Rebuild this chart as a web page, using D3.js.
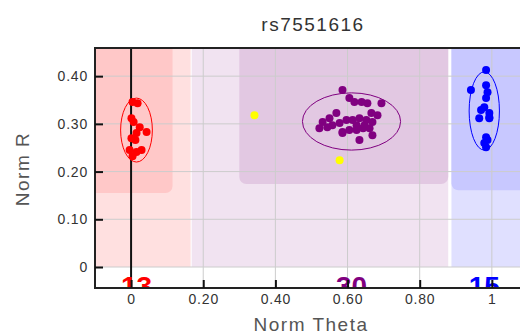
<!DOCTYPE html>
<html>
<head>
<meta charset="utf-8">
<script src="https://cdn.jsdelivr.net/npm/d3@7"></script>
<style>
    body { margin: 0; background: #fff; }
    svg text { font-family: "Liberation Sans", Arial, sans-serif; }
</style>
</head>
<body>
<svg id="figure"></svg>
<script>
// SNP cluster plot
const snpName = "rs7551616";

const xTicks = [0, 0.2, 0.4, 0.6, 0.8, 1];
const yTicks = [0, 0.1, 0.2, 0.3, 0.4];

// AA cluster (red)
const aaTheta = [0.004, 0.018, 0.001, 0.007, 0.024, 0.043, 0.015, 0.001, 0.012, -0.004, 0.015, 0.029, 0.004];
const aaR     = [0.346, 0.343, 0.312, 0.304, 0.293, 0.283, 0.281, 0.270, 0.266, 0.245, 0.241, 0.245, 0.232];

// AB cluster (purple)
const abTheta = [0.586, 0.605, 0.619, 0.639, 0.655, 0.694, 0.666, 0.683, 0.569, 0.550,
                 0.531, 0.522, 0.558, 0.578, 0.597, 0.614, 0.633, 0.652, 0.669, 0.586,
                 0.605, 0.625, 0.643, 0.661, 0.669, 0.633, 0.586, 0.544, 0.625, 0.647];
const abR     = [0.371, 0.354, 0.346, 0.346, 0.343, 0.343, 0.323, 0.318, 0.323, 0.312,
                 0.304, 0.291, 0.297, 0.302, 0.308, 0.308, 0.312, 0.308, 0.304, 0.283,
                 0.287, 0.287, 0.291, 0.291, 0.276, 0.266, 0.281, 0.293, 0.297, 0.297];

// BB cluster (blue)
const bbTheta = [0.984, 0.942, 0.984, 0.988, 0.984, 0.979, 0.970, 0.993, 0.965, 0.993, 0.984, 0.979, 0.984, 0.988, 0.993];
const bbR     = [0.413, 0.371, 0.381, 0.366, 0.354, 0.335, 0.329, 0.323, 0.312, 0.312, 0.272, 0.260, 0.251, 0.266, 0.314];

// no call
const ncTheta = [0.342, 0.578];
const ncR     = [0.318, 0.224];

// cluster ellipses: centre and half axes, in theta / R units
const ellCx = [0.015, 0.611, 0.979];
const ellCy = [0.287, 0.305, 0.327];
const ellRx = [0.044, 0.136, 0.042];
const ellRy = [0.067, 0.060, 0.082];

// call regions behind the points
const zoneTheta0 = [-0.2, 0.168, 0.888, -0.2, 0.300, 0.888];
const zoneTheta1 = [0.165, 0.879, 1.2, 0.115, 0.879, 1.2];
const zoneR0     = [0, 0, 0, 0.155, 0.174, 0.161];
const zoneR1     = [0.6, 0.6, 0.6, 0.6, 0.6, 0.6];

const clusterColors = ["#ff0000", "#800080", "#0000ff"];
const zoneColors = ["#ffe0e0", "#f1e3f1", "#e0e0ff", "#ffc8c8", "#e2c8e2", "#c8c8ff"];

const W = 520, H = 334;
const plot = {left: 95, right: 521, top: 48, bottom: 288};

const svg = d3.select("#figure").attr("width", W).attr("height", H);

const x = d3.scaleLinear().domain([-0.1, 1.078]).range([plot.left, plot.right - 1]);
const y = d3.scaleLinear().domain([-0.044, 0.459]).range([plot.bottom, plot.top]);

// nested viewport for the plot area so everything inside is cut at its edges
const g = svg.append("svg")
    .attr("x", plot.left).attr("y", plot.top)
    .attr("width", plot.right - plot.left).attr("height", plot.bottom - plot.top)
    .attr("viewBox", `${plot.left} ${plot.top} ${plot.right - plot.left} ${plot.bottom - plot.top}`)
    .style("overflow", "hidden");

// background regions
g.selectAll("rect.zone")
    .data(zoneTheta0.map((t, i) => i))
    .enter().append("rect")
    .attr("class", "zone")
    .attr("x", i => x(zoneTheta0[i]))
    .attr("y", i => y(zoneR1[i]))
    .attr("width", i => x(zoneTheta1[i]) - x(zoneTheta0[i]))
    .attr("height", i => y(zoneR0[i]) - y(zoneR1[i]))
    .attr("rx", i => i >= 3 ? 7 : 0)
    .attr("fill", i => zoneColors[i]);

// grid
g.selectAll("line.vgrid")
    .data(xTicks.filter(d => d !== 0))
    .enter().append("line")
    .attr("x1", d => x(d)).attr("x2", d => x(d))
    .attr("y1", plot.top).attr("y2", plot.bottom)
    .attr("stroke", "#cccccc");

g.selectAll("line.hgrid")
    .data(yTicks)
    .enter().append("line")
    .attr("x1", plot.left).attr("x2", plot.right)
    .attr("y1", d => y(d)).attr("y2", d => y(d))
    .attr("stroke", "#cccccc");

// theta = 0 line
g.append("line")
    .attr("x1", x(0)).attr("x2", x(0))
    .attr("y1", plot.top).attr("y2", plot.bottom)
    .attr("stroke", "#111").attr("stroke-width", 2);

const clusters = [
    {theta: aaTheta, r: aaR},
    {theta: abTheta, r: abR},
    {theta: bbTheta, r: bbR}
];

// ellipses
g.selectAll("ellipse")
    .data(ellCx.map((c, i) => i))
    .enter().append("ellipse")
    .attr("cx", i => x(ellCx[i]))
    .attr("cy", i => y(ellCy[i]))
    .attr("rx", i => x(ellCx[i] + ellRx[i]) - x(ellCx[i]))
    .attr("ry", i => y(ellCy[i]) - y(ellCy[i] + ellRy[i]))
    .attr("fill", "none")
    .attr("stroke", i => clusterColors[i])
    .attr("stroke-width", 1);

// points
clusters.forEach((c, k) => {
    g.append("g").selectAll("circle")
        .data(c.theta.map((t, i) => [t, c.r[i]]))
        .enter().append("circle")
        .attr("cx", d => x(d[0]))
        .attr("cy", d => y(d[1]))
        .attr("r", 4)
        .attr("fill", clusterColors[k]);
});

g.append("g").selectAll("circle")
    .data(ncTheta.map((t, i) => [t, ncR[i]]))
    .enter().append("circle")
    .attr("cx", d => x(d[0]))
    .attr("cy", d => y(d[1]))
    .attr("r", 4)
    .attr("fill", "#ffff00");

// cluster counts, cut off by the plot bottom
g.selectAll("text.count")
    .data(clusters)
    .enter().append("text")
    .attr("x", (d, i) => x(ellCx[i]))
    .attr("y", plot.bottom + 8)
    .attr("text-anchor", "middle")
    .attr("font-size", 28)
    .attr("font-weight", "bold")
    .attr("fill", (d, i) => clusterColors[i])
    .text(d => d.theta.length);

// frame
svg.append("path")
    .attr("d", `M${plot.right},${plot.top}H${plot.left}V${plot.bottom}H${plot.right}`)
    .attr("fill", "none")
    .attr("stroke", "#222")
    .attr("stroke-width", 2);

// axes
const fmt = d => (d === 0 || d === 1) ? String(d) : d.toFixed(2);

const yAxis = svg.append("g")
    .attr("transform", `translate(${plot.left},0)`)
    .call(d3.axisLeft(y).tickValues(yTicks).tickFormat(fmt)
        .tickSizeInner(-8).tickSizeOuter(0).tickPadding(7));

const xAxis = svg.append("g")
    .attr("transform", `translate(0,${plot.bottom})`)
    .call(d3.axisBottom(x).tickValues(xTicks).tickFormat(fmt)
        .tickSizeInner(-8).tickSizeOuter(0).tickPadding(6));

[yAxis, xAxis].forEach(a => {
    a.select(".domain").remove();
    a.selectAll("line").attr("stroke", "#111").attr("stroke-width", 2);
    a.selectAll("text")
        .attr("font-family", "Liberation Sans, Arial, sans-serif")
        .attr("font-size", 14)
        .attr("letter-spacing", 0.8)
        .attr("fill", "#333");
});

// titles
svg.append("text")
    .attr("x", 313).attr("y", 31)
    .attr("text-anchor", "middle")
    .attr("font-size", 19)
    .attr("letter-spacing", 1.5)
    .attr("fill", "#333")
    .text(snpName);

svg.append("text")
    .attr("x", 311).attr("y", 331)
    .attr("text-anchor", "middle")
    .attr("font-size", 19)
    .attr("letter-spacing", 1.5)
    .attr("fill", "#555")
    .text("Norm Theta");

svg.append("text")
    .attr("transform", "translate(29,169) rotate(-90)")
    .attr("text-anchor", "middle")
    .attr("font-size", 19)
    .attr("letter-spacing", 1.5)
    .attr("fill", "#555")
    .text("Norm R");
</script>
</body>
</html>
